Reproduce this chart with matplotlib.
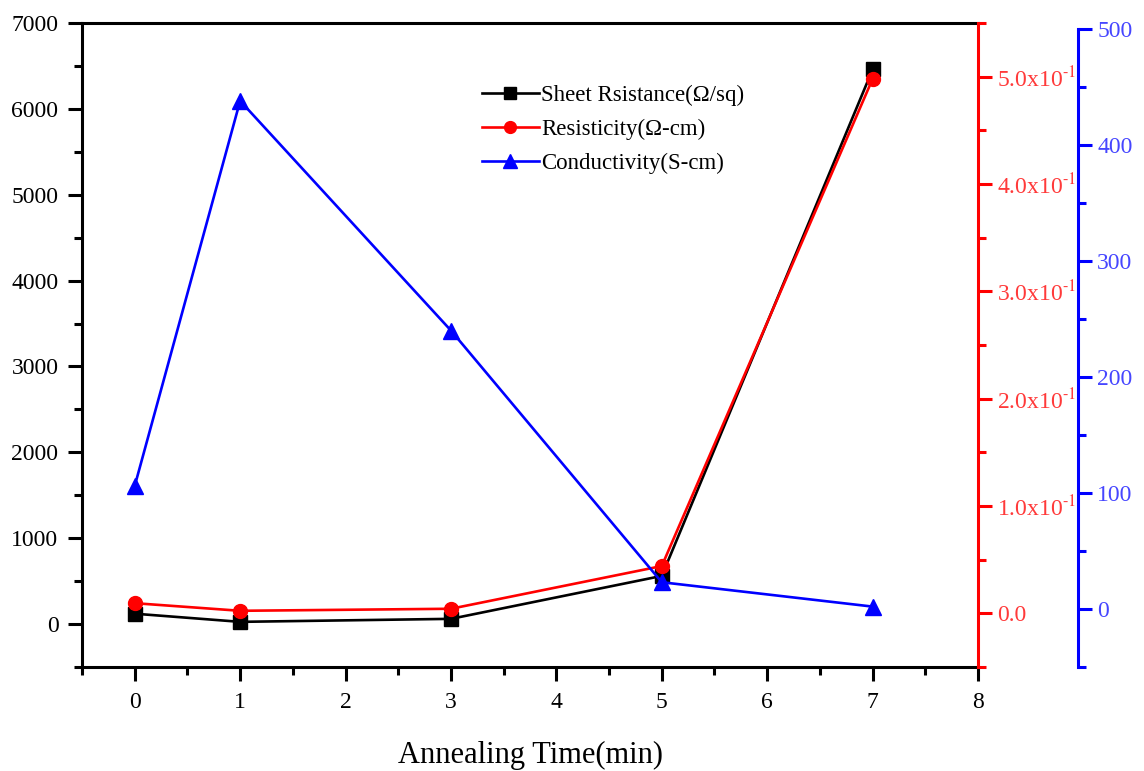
import numpy as np
import matplotlib.pyplot as plt
from matplotlib.ticker import MultipleLocator, FuncFormatter

plt.rcParams['font.family'] = ['Liberation Serif', 'DejaVu Serif']
plt.rcParams['mathtext.fontset'] = 'stix'

# data
time_min = [0, 1, 3, 5, 7]
sheet_res = [120, 25, 60, 560, 6460]          # Ohm/sq
resistivity = [0.0094, 0.0023, 0.0042, 0.044, 0.498]   # Ohm-cm
conductivity = [106, 438, 240, 23, 2]         # S-cm

SPINE_W = 2.2


def red_fmt(v, pos):
    if abs(v) < 1e-9:
        return '0.0'
    return '%.1fx10$^{\\text{-1}}$' % (v * 10)


fig = plt.figure(figsize=(11.44, 7.71), dpi=100)
ax = fig.add_axes([0.0717, 0.135, 0.7832, 0.835])
ax2 = ax.twinx()
ax3 = ax.twinx()

# left axis - sheet resistance
l1, = ax.plot(time_min, sheet_res, color='black', lw=1.9, marker='s', ms=10,
              label='Sheet Rsistance(\u03a9/sq)')
ax.set_xlim(-0.5, 8)
ax.set_ylim(-500, 7000)
ax.xaxis.set_major_locator(MultipleLocator(1))
ax.xaxis.set_minor_locator(MultipleLocator(0.5))
ax.yaxis.set_major_locator(MultipleLocator(1000))
ax.yaxis.set_minor_locator(MultipleLocator(500))
ax.tick_params(which='both', direction='out', width=SPINE_W, labelsize=17,
               top=False, right=False)
ax.tick_params(which='major', length=10)
ax.tick_params(which='minor', length=6)
ax.tick_params(axis='x', pad=8)
ax.tick_params(axis='y', pad=7)
for s in ax.spines.values():
    s.set_linewidth(SPINE_W)
ax.spines['right'].set_visible(False)
ax.set_xlabel('Annealing Time(min)', fontsize=22, labelpad=20)

# red axis - resistivity
l2, = ax2.plot(time_min, resistivity, color='red', lw=1.9, marker='o', ms=10,
               label='Resisticity(\u03a9-cm)')
ax2.set_ylim(-0.05, 0.55)
ax2.yaxis.set_major_locator(MultipleLocator(0.1))
ax2.yaxis.set_minor_locator(MultipleLocator(0.05))
ax2.yaxis.set_major_formatter(FuncFormatter(red_fmt))
ax2.tick_params(which='both', direction='out', width=SPINE_W, colors='red',
                labelsize=17, labelcolor='#ff3a3a')
ax2.tick_params(which='major', length=10)
ax2.tick_params(which='minor', length=6)
for k in ['left', 'top', 'bottom']:
    ax2.spines[k].set_visible(False)
ax2.spines['right'].set_color('red')
ax2.spines['right'].set_linewidth(SPINE_W)

# blue axis - conductivity
l3, = ax3.plot(time_min, conductivity, color='blue', lw=1.9, marker='^', ms=12,
               label='Conductivity(S-cm)')
ax3.set_ylim(-50, 505)
ax3.yaxis.set_major_locator(MultipleLocator(100))
ax3.yaxis.set_minor_locator(MultipleLocator(50))
ax3.tick_params(which='both', direction='out', width=SPINE_W, colors='blue',
                labelsize=17, labelcolor='#4646ff')
ax3.tick_params(which='major', length=10)
ax3.tick_params(which='minor', length=6)
for k in ['left', 'top', 'bottom']:
    ax3.spines[k].set_visible(False)
ax3.spines['right'].set_position(('axes', 1.112))
ax3.spines['right'].set_color('blue')
ax3.spines['right'].set_linewidth(SPINE_W)
ax3.spines['right'].set_bounds(-50, 500)

ax3.legend(handles=[l1, l2, l3], loc='upper left', bbox_to_anchor=(0.421, 0.89),
           bbox_transform=fig.transFigure, frameon=False, fontsize=16.5,
           handlelength=2.5, handletextpad=0.1, labelspacing=0.55,
           borderpad=0, borderaxespad=0, markerscale=0.85)

fig.savefig('out.png', dpi=100)
